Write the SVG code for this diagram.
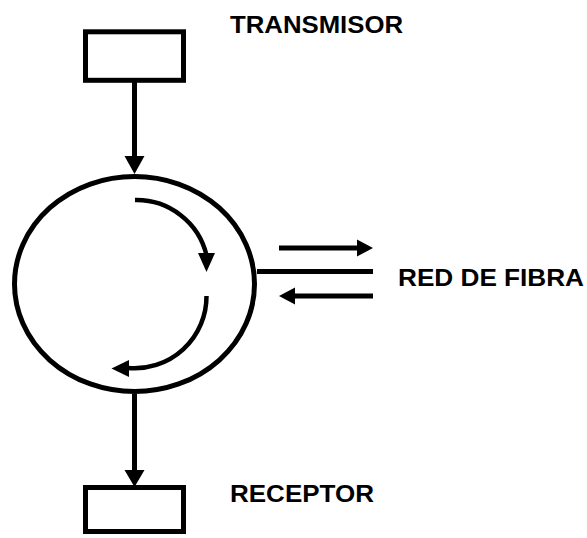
<svg xmlns="http://www.w3.org/2000/svg" width="587" height="538" viewBox="0 0 587 538">
<style>
.box{fill:#fff;stroke:#000;stroke-width:5}
.ln{fill:none;stroke:#000;stroke-width:5}
.thin{fill:none;stroke:#000;stroke-width:4.5}
.head{fill:#000}
.lbl{font-family:"Liberation Sans",Arial,sans-serif;font-weight:bold;font-size:24px;fill:#000}
</style>
<rect width="587" height="538" fill="#fff"/>
<g id="connectors">
<line class="ln" x1="134.5" y1="82" x2="134.5" y2="158"/>
<polygon class="head" points="124.5,156 144.5,156 134.5,174"/>
<line class="ln" x1="134.5" y1="394" x2="134.5" y2="472"/>
<polygon class="head" points="124.5,470 144.5,470 134.5,487"/>
<line class="ln" x1="257" y1="271.5" x2="373" y2="271.5"/>
<line class="ln" x1="279" y1="248" x2="359" y2="248"/>
<polygon class="head" points="357,239.5 373,248 357,256.5"/>
<line class="ln" x1="293" y1="296" x2="373" y2="296"/>
<polygon class="head" points="295,287.5 279,296 295,304.5"/>
</g>
<g id="transmisor">
<rect class="box" x="85.5" y="31.8" width="98" height="48.5"/>
<text class="lbl" x="230" y="32.5" textLength="173" lengthAdjust="spacingAndGlyphs">TRANSMISOR</text>
</g>
<g id="circulador">
<ellipse class="ln" cx="134.5" cy="284" rx="120" ry="107.5"/>
<path class="thin" d="M135,200 A72,72 0 0 1 206.5,255"/>
<polygon class="head" points="198,253 215,253 206.5,272"/>
<path class="thin" d="M206.5,296 A72,72 0 0 1 128,368"/>
<polygon class="head" points="129,360 129,377 111.5,368.5"/>
</g>
<g id="red">
<text class="lbl" x="398" y="286" textLength="186" lengthAdjust="spacingAndGlyphs">RED DE FIBRA</text>
</g>
<g id="receptor">
<rect class="box" x="85.5" y="487.5" width="98" height="44"/>
<text class="lbl" x="230" y="501.5" textLength="144" lengthAdjust="spacingAndGlyphs">RECEPTOR</text>
</g>
</svg>
